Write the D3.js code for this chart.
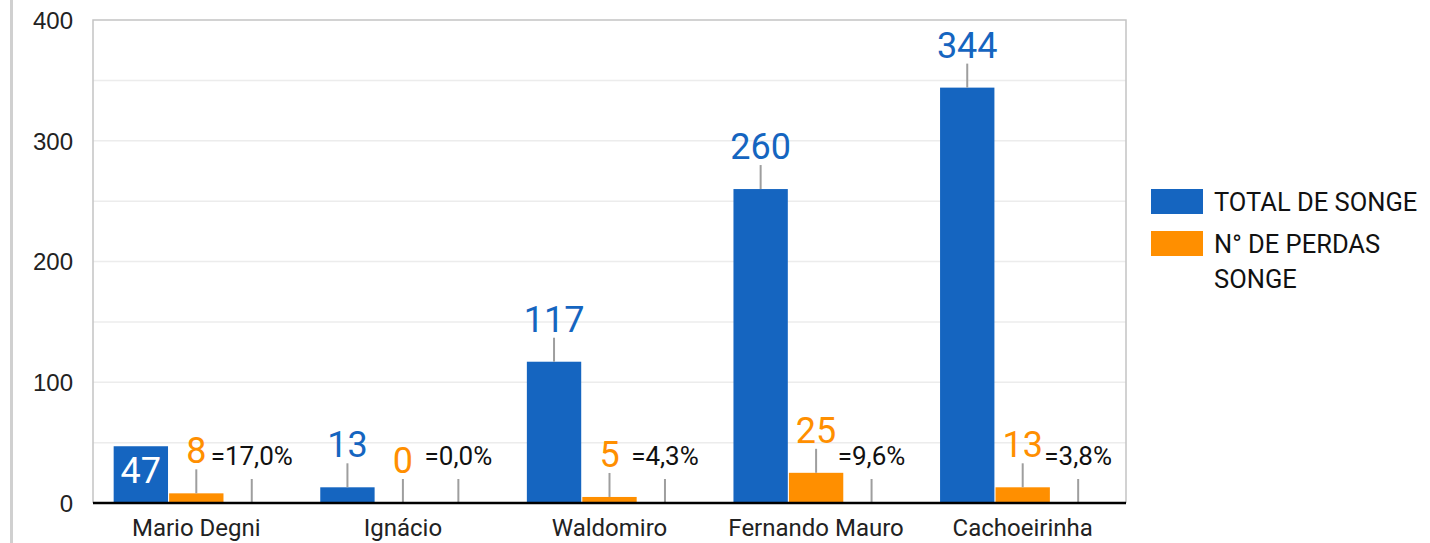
<!DOCTYPE html>
<html>
<head>
<meta charset="utf-8">
<script src="https://cdn.jsdelivr.net/npm/d3@7"></script>
<style>
  body { margin: 0; background: #fff; }
  svg { display: block; font-family: Roboto, "Noto Sans", sans-serif; }
  .tick text { fill: #222; font-size: 24px; }
  .cat text { fill: #222; font-size: 24px; }
  .legend text { fill: #111; font-size: 25.5px; }
</style>
</head>
<body>
<div id="chart"></div>
<script>
// data
var categories = ['Mario Degni', 'Ignácio', 'Waldomiro', 'Fernando Mauro', 'Cachoeirinha'];
var totalSonge = [47, 13, 117, 260, 344];
var perdasSonge = [8, 0, 5, 25, 13];
var pctLabels = ['=17,0%', '=0,0%', '=4,3%', '=9,6%', '=3,8%'];
var yTicks = [0, 100, 200, 300, 400];
var insideLabels = ['Mario Degni'];   // label drawn inside the bar (white)

(function (d3) {
  'use strict';

  var width = 1430, height = 543;
  var plotLeft = 93, plotRight = 1126, plotTop = 20, plotBottom = 503;
  var blue = '#1565c0', orange = '#ff8f00', leader = '#9e9e9e';

  var svg = d3.select('#chart').append('svg')
    .attr('width', width).attr('height', height);

  // far-left frame line
  svg.append('rect').attr('x', 10).attr('y', 0).attr('width', 3).attr('height', height).attr('fill', '#d0d0d0');

  var x0 = d3.scaleBand().domain(categories).range([plotLeft, plotRight]).paddingInner(0.2).paddingOuter(0.1);
  var x1 = d3.scaleBand().domain(['total', 'perdas', 'pct']).range([0, x0.bandwidth()]).paddingInner(0.02);
  var y = d3.scaleLinear().domain([0, 400]).range([plotBottom, plotTop]);

  // minor + major gridlines
  svg.append('g').selectAll('line')
    .data(d3.range(50, 400, 50))
    .enter().append('line')
    .attr('x1', plotLeft).attr('x2', plotRight)
    .attr('y1', function(d){ return y(d); }).attr('y2', function(d){ return y(d); })
    .attr('stroke', '#ececec').attr('stroke-width', 1.5);

  // plot frame (top, left, right)
  svg.append('path')
    .attr('d', 'M' + plotLeft + ',' + plotBottom + 'V' + plotTop + 'H' + plotRight + 'V' + plotBottom)
    .attr('fill', 'none').attr('stroke', '#c4c4c4').attr('stroke-width', 1.5);

  // y axis
  var yAxis = svg.append('g')
    .attr('transform', 'translate(' + (plotLeft - 20) + ',0)')
    .call(d3.axisLeft(y).tickValues(yTicks).tickSize(0).tickPadding(0));
  yAxis.select('.domain').remove();
  yAxis.selectAll('text').attr('dy', '0.35em');

  var rows = categories.map(function(c, i){
    return {cat: c, vals: [
      {cat: c, key: 'total', v: totalSonge[i], color: blue, label: String(totalSonge[i])},
      {cat: c, key: 'perdas', v: perdasSonge[i], color: orange, label: String(perdasSonge[i])},
      {cat: c, key: 'pct', v: 0, color: 'none', label: pctLabels[i]}
    ]};
  });

  var group = svg.append('g').selectAll('g')
    .data(rows).enter().append('g')
    .attr('transform', function(d){ return 'translate(' + x0(d.cat) + ',0)'; });

  var item = group.selectAll('g')
    .data(function(d){ return d.vals; })
    .enter().append('g');

  item.append('rect')
    .attr('x', function(d){ return x1(d.key); })
    .attr('width', x1.bandwidth())
    .attr('y', function(d){ return y(d.v); })
    .attr('height', function(d){ return y(0) - y(d.v); })
    .attr('fill', function(d){ return d.color; });

  var cx = function(d){ return x1(d.key) + x1.bandwidth() / 2; };
  var isInside = function(d){ return d.key === 'total' && insideLabels.indexOf(d.cat) >= 0; };
  var outside = item.filter(function(d){ return !isInside(d); });
  var inside = item.filter(isInside);

  outside.append('line')
    .attr('x1', cx).attr('x2', cx)
    .attr('y1', function(d){ return y(d.v); })
    .attr('y2', function(d){ return y(d.v) - 24; })
    .attr('stroke', leader).attr('stroke-width', 2);

  outside.append('text')
    .attr('x', cx)
    .attr('y', function(d){ return y(d.v) - (d.key === 'pct' ? 38 : 30); })
    .attr('text-anchor', 'middle')
    .attr('font-size', function(d){ return d.key === 'pct' ? 26 : 36; })
    .attr('fill', function(d){ return d.key === 'pct' ? '#111' : d.color; })
    .text(function(d){ return d.label; });

  inside.append('text')
    .attr('x', cx)
    .attr('y', function(){ return y(0) - 20; })
    .attr('text-anchor', 'middle')
    .attr('font-size', 36)
    .attr('fill', '#fff')
    .text(function(d){ return d.label; });

  // baseline
  svg.append('line')
    .attr('x1', plotLeft).attr('x2', plotRight)
    .attr('y1', y(0)).attr('y2', y(0))
    .attr('stroke', '#000').attr('stroke-width', 2.5);

  // category labels
  svg.append('g').attr('class', 'cat').selectAll('text')
    .data(categories).enter().append('text')
    .attr('x', function(d){ return x0(d) + x0.bandwidth() / 2; })
    .attr('y', 536)
    .attr('text-anchor', 'middle')
    .text(function(d){ return d; });

  // legend
  var legendItems = [
    {color: blue, lines: ['TOTAL DE SONGE']},
    {color: orange, lines: ['N° DE PERDAS', 'SONGE']}
  ];
  var legend = svg.append('g').attr('class', 'legend')
    .selectAll('g').data(legendItems).enter().append('g')
    .attr('transform', function(d, i){ return 'translate(1151,' + (189 + i * 42) + ')'; });

  legend.append('rect')
    .attr('width', 52).attr('height', 25)
    .attr('fill', function(d){ return d.color; });

  legend.append('text')
    .attr('x', 63)
    .attr('y', 22)
    .selectAll('tspan').data(function(d){ return d.lines; })
    .enter().append('tspan')
    .attr('x', 63)
    .attr('dy', function(d, i){ return i ? 35 : 0; })
    .text(function(d){ return d; });
})(window.d3);
</script>
</body>
</html>
